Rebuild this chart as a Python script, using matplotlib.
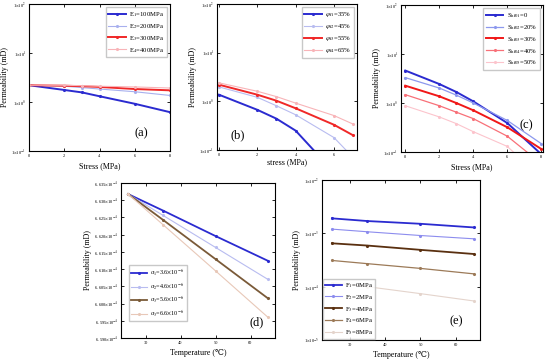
import numpy as np
import matplotlib
matplotlib.use('Agg')
import matplotlib.pyplot as plt
from matplotlib.ticker import FixedLocator, FuncFormatter, NullLocator

plt.rcParams['font.family'] = ['Liberation Serif', 'DejaVu Serif']
plt.rcParams['mathtext.fontset'] = 'stix'

# ---- data ----
stress_a = [0, 2, 3, 4, 6, 8]
E1 = [2.2, 1.76, 1.57, 1.31, 0.92, 0.62]
E2 = [2.2, 2.10, 1.97, 1.84, 1.62, 1.36]
E3 = [2.2, 2.15, 2.10, 2.03, 1.84, 1.73]
E4 = [2.2, 2.20, 2.15, 2.10, 2.03, 1.93]
labels_a = [r'E$_1$=100MPa', r'E$_2$=200MPa', r'E$_3$=300MPa', r'E$_4$=400MPa']

stress_b = [0, 2, 3, 4, 6, 7]
phi1 = [1.37, 0.67, 0.44, 0.25, 0.035, 0.01]
phi2 = [1.98, 1.21, 0.81, 0.53, 0.18, 0.07]
phi3 = [2.2, 1.37, 1.03, 0.72, 0.33, 0.20]
phi4 = [2.4, 1.61, 1.25, 0.92, 0.51, 0.34]
labels_b = [r'$\varphi_{\rm f1}$=35%', r'$\varphi_{\rm f2}$=45%',
            r'$\varphi_{\rm f3}$=55%', r'$\varphi_{\rm f4}$=65%']

stress_c = [0, 2, 3, 4, 6, 8]
S1 = [4.6, 2.44, 1.68, 1.08, 0.39, 0.09]
S2 = [3.3, 2.02, 1.45, 1.0, 0.44, 0.148]
S3 = [2.26, 1.37, 1.0, 0.71, 0.32, 0.115]
S4 = [1.48, 0.88, 0.65, 0.48, 0.21, 0.058]
S5 = [0.88, 0.52, 0.38, 0.26, 0.13, 0.03]
labels_c = [r'S$_{\rm hf01}$=0', r'S$_{\rm hf02}$=20%', r'S$_{\rm hf03}$=30%',
            r'S$_{\rm hf04}$=40%', r'S$_{\rm hf05}$=50%']

temp = [25, 35, 50, 65]
a1 = [6.6318e-4, 6.6270e-4, 6.6196e-4, 6.6124e-4]
a2 = [6.6318e-4, 6.6256e-4, 6.6163e-4, 6.6070e-4]
a3 = [6.6318e-4, 6.6243e-4, 6.6129e-4, 6.6015e-4]
a4 = [6.6318e-4, 6.6229e-4, 6.6095e-4, 6.5960e-4]
labels_d = [r'$\alpha_1$=3.6$\times$10$^{-6}$', r'$\alpha_2$=4.6$\times$10$^{-6}$',
            r'$\alpha_3$=5.6$\times$10$^{-6}$', r'$\alpha_3$=6.6$\times$10$^{-6}$']
yticks_d = [6.590e-4, 6.595e-4, 6.600e-4, 6.605e-4, 6.610e-4,
            6.615e-4, 6.620e-4, 6.625e-4, 6.630e-4, 6.635e-4]

F1 = [1.91e-3, 1.70e-3, 1.51e-3, 1.29e-3]
F2 = [1.20e-3, 1.07e-3, 0.91e-3, 0.79e-3]
F3 = [6.5e-4, 5.9e-4, 4.9e-4, 4.1e-4]
F4 = [3.1e-4, 2.7e-4, 2.2e-4, 1.74e-4]
F5 = [1.19e-4, 1.0e-4, 7.4e-5, 5.4e-5]
labels_e = [r'F$_1$=0MPa', r'F$_2$=2MPa', r'F$_3$=4MPa', r'F$_4$=6MPa', r'F$_5$=8MPa']

W, H = 550, 362
fig = plt.figure(figsize=(W / 100, H / 100), dpi=100)


def add_ax(l, t, r, b):
    return fig.add_axes([l / W, 1 - b / H, (r - l) / W, (b - t) / H])


def log_fmt(v, pos):
    return r'1$\times$10$^{%d}$' % int(round(np.log10(v)))


def style(ax, logy=True, decades=None):
    ax.tick_params(direction='in', length=2, width=0.6, labelsize=3.2,
                   top=True, right=True, pad=2)
    for s in ax.spines.values():
        s.set_linewidth(0.8)
    if logy:
        ax.set_yscale('log')
        ax.yaxis.set_major_locator(FixedLocator(decades))
        ax.yaxis.set_major_formatter(FuncFormatter(log_fmt))
        ax.yaxis.set_minor_locator(NullLocator())
        ax.set_ylim(decades[0], decades[-1])


def draw(ax, x, series, colors, widths, labels):
    for y, c, w, lab in zip(series, colors, widths, labels):
        ax.plot(x, y, color=c, lw=w, marker='.', ms=2.5, label=lab)


def legend(ax, **kw):
    opts = dict(fontsize=4.8, frameon=True, fancybox=False, edgecolor='#bbbbbb',
                handlelength=2.6, handletextpad=0.5, borderpad=0.4, labelspacing=0.45)
    opts.update(kw)
    ax.legend(**opts)


# (a)
ax = add_ax(29, 4, 170, 151)
draw(ax, stress_a, [E1, E2, E3, E4],
     ['#2b2bd0', '#a8b0ee', '#f02828', '#f8b4b8'], [1.4, 0.8, 1.4, 0.8], labels_a)
style(ax, decades=[1e-1, 1e0, 1e1, 1e2])
ax.set_xlim(0, 8)
ax.set_xticks([0, 2, 4, 6, 8])
ax.set_xlabel('Stress (MPa)', fontsize=5.8, labelpad=3)
ax.set_ylabel('Permeability (mD)', fontsize=5.8, labelpad=2)
legend(ax, loc='upper right')
ax.text(0.8, 0.1, '(a)', transform=ax.transAxes, fontsize=9, ha='center')

# (b)
ax = add_ax(217, 4, 357, 150)
draw(ax, stress_b, [phi1, phi2, phi3, phi4],
     ['#2b2bd0', '#b8bcf0', '#f02828', '#f8b4b8'], [1.4, 0.8, 1.4, 0.8], labels_b)
style(ax, decades=[1e-1, 1e0, 1e1, 1e2])
ax.set_xlim(-0.1, 7.2)
ax.set_xticks([0, 2, 4, 6])
ax.set_xlabel('stress (MPa)', fontsize=5.8, labelpad=1)
ax.set_ylabel('Permeability (mD)', fontsize=5.8, labelpad=2)
legend(ax, loc='upper right')
ax.text(0.15, 0.08, '(b)', transform=ax.transAxes, fontsize=9, ha='center')

# (c)
ax = add_ax(401, 5, 543, 152)
draw(ax, stress_c, [S1, S2, S3, S4, S5],
     ['#2b2bd0', '#8c98ee', '#f01818', '#f87078', '#fcc4cc'],
     [1.4, 0.9, 1.4, 0.9, 0.8], labels_c)
style(ax, decades=[1e-1, 1e0, 1e1, 1e2])
ax.set_xlim(-0.25, 8.1)
ax.set_xticks([0, 2, 4, 6, 8])
ax.set_xlabel('Stress (MPa)', fontsize=5.8, labelpad=3)
ax.set_ylabel('Permeability (mD)', fontsize=5.8, labelpad=2)
legend(ax, loc='upper right')
ax.text(0.88, 0.16, '(c)', transform=ax.transAxes, fontsize=9, ha='center')

# (d)
ax = add_ax(121, 183, 275, 338)
draw(ax, temp, [a1, a2, a3, a4],
     ['#2b2bd0', '#b8bcf0', '#7a5a38', '#e8c8b8'], [1.3, 0.8, 1.3, 0.8], labels_d)
style(ax, logy=False)
ax.set_ylim(6.590e-4, 6.635e-4)
ax.set_yticks(yticks_d)
ax.yaxis.set_major_formatter(FuncFormatter(
    lambda v, p: r'6. %03d$\times$10$^{-4}$' % int(round((v * 1e4 - 6) * 1000))))
ax.set_xlim(23, 67)
ax.set_xticks([30, 40, 50, 60])
ax.set_xlabel('Temperature (\u2103)', fontsize=5.8, labelpad=3)
ax.set_ylabel('Permeability (mD)', fontsize=5.8, labelpad=2)
legend(ax, loc='lower left', bbox_to_anchor=(0.03, 0.09), fontsize=4.4)
ax.text(0.88, 0.08, '(d)', transform=ax.transAxes, fontsize=9, ha='center')

# (e)
ax = add_ax(322, 180, 480, 340)
draw(ax, temp, [F1, F2, F3, F4, F5],
     ['#2b2bd0', '#8c8cee', '#5a3010', '#9c7a58', '#e4d4cc'],
     [1.3, 0.8, 1.3, 0.9, 0.8], labels_e)
style(ax, decades=[1e-5, 1e-4, 1e-3, 1e-2])
ax.set_xlim(22.2, 66.8)
ax.set_xticks([30, 40, 50, 60])
ax.set_xlabel('Temperature (\u2103)', fontsize=5.8, labelpad=3)
ax.set_ylabel('Permeability (mD)', fontsize=5.8, labelpad=2)
legend(ax, loc='lower left', borderpad=0.3, borderaxespad=0.1)
ax.text(0.85, 0.1, '(e)', transform=ax.transAxes, fontsize=9, ha='center')

fig.savefig('out.png', dpi=100, facecolor='white')
